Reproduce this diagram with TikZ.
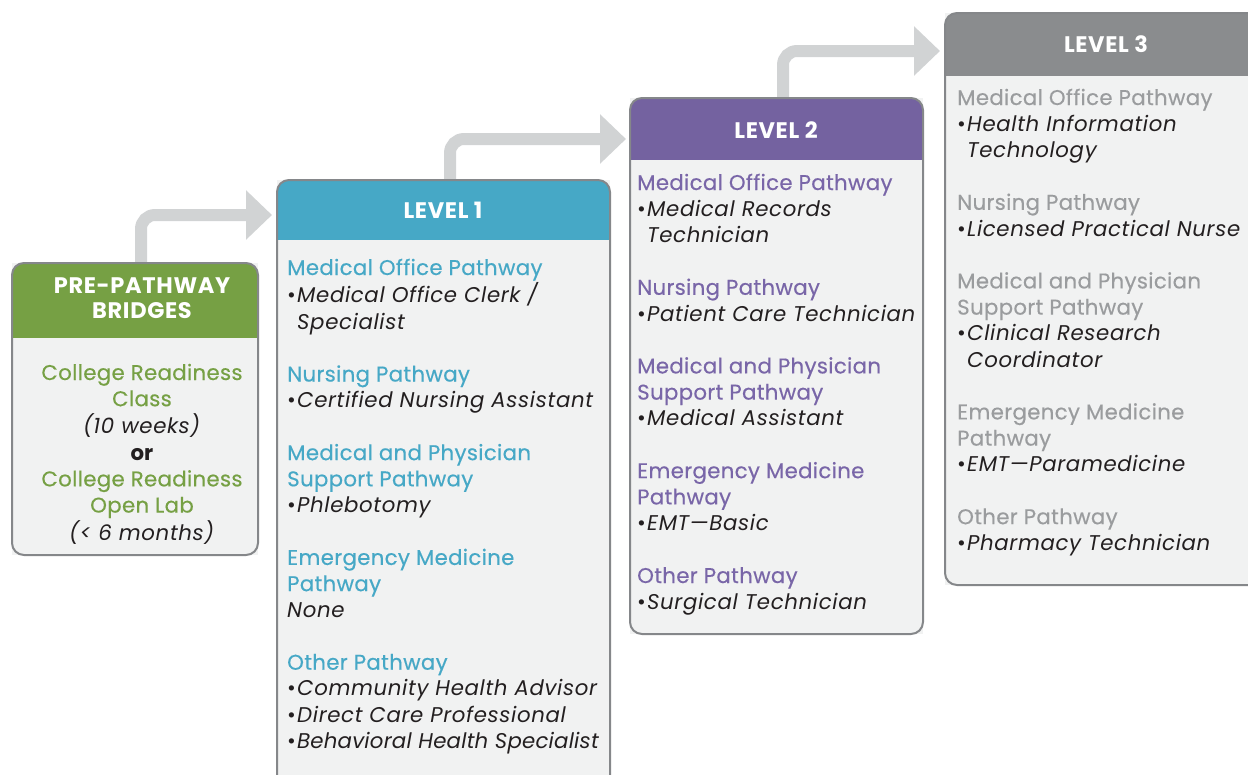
\documentclass[tikz,border=0pt]{standalone}
\usepackage{fontspec}
\setmainfont{Poppins}
\usetikzlibrary{arrows.meta}

\definecolor{cgreen}{HTML}{76A044}
\definecolor{cblue}{HTML}{46A8C6}
\definecolor{cpurple}{HTML}{7462A0}
\definecolor{cgrey}{HTML}{8A8C8E}
\definecolor{tgrey}{HTML}{9A9C9E}
\definecolor{tpurple}{HTML}{7966A8}
\definecolor{panelbg}{HTML}{F1F2F2}
\definecolor{panelline}{HTML}{85878A}
\definecolor{flowgrey}{HTML}{D1D3D4}
\definecolor{ink}{HTML}{231F20}

% heading, bulleted item and continuation line inside a panel
\newcommand{\phead}[1]{{\addfontfeatures{FakeBold=0.35,LetterSpace=1.5}\textcolor{accent}{#1}}}
\newcommand{\pital}[2][3]{\textit{\addfontfeatures{LetterSpace=#1}#2}}
\newcommand{\pitem}[2][3]{\makebox[10pt][l]{•}\pital[#1]{#2}}
\newcommand{\pcont}[1]{\hspace*{10pt}\pital{#1}}

\tikzset{
  panel/.style={fill=panelbg, inner sep=0pt, outer sep=0pt, anchor=north west},
  frame/.style={draw=panelline, line width=2pt, rounded corners=12pt},
  flow/.style={draw=flowgrey, line width=12pt, rounded corners=14pt,
    -{Triangle[width=48pt,length=26pt]}},
  title/.style={text=white, font=\fontsize{22.5}{26}\selectfont\bfseries\addfontfeatures{LetterSpace=3},
    anchor=base, inner sep=0pt},
  body/.style={text=ink, font=\fontsize{21.3}{26.2}\selectfont,
    anchor=base west, inner sep=0pt},
}

% a panel with a coloured header band: name, header height, colour
\newcommand{\panelhead}[3]{%
  \begin{scope}
    \clip[rounded corners=12pt] (#1.north west) rectangle (#1.south east);
    \fill[#3] (#1.north west) rectangle ([yshift=-#2]#1.north east);
  \end{scope}
  \draw[frame] (#1.north west) rectangle (#1.south east);
}

\begin{document}
\begin{tikzpicture}[x=1pt,y=-1pt]
\useasboundingbox (0,0) rectangle (1248,774);

% panels
\node[panel, minimum width=246pt, minimum height=292pt] (pre) at (12,263) {};
\node[panel, minimum width=333pt, minimum height=640pt] (l1) at (277,180) {};
\node[panel, minimum width=293pt, minimum height=536pt] (l2) at (630,98) {};
\node[panel, minimum width=323pt, minimum height=572pt] (l3) at (945,13) {};

% progression arrows
\draw[flow] ([xshift=6pt]pre.north) |- ([xshift=-5pt,yshift=-35pt]l1.north west);
\draw[flow] ([xshift=6.5pt]l1.north) |- ([xshift=-4pt,yshift=-41pt]l2.north west);
\draw[flow] ([xshift=6.5pt]l2.north) |- ([xshift=-5pt,yshift=-38pt]l3.north west);

% redraw panel bodies over arrow stubs
\fill[panelbg, rounded corners=12pt] (pre.north west) rectangle (pre.south east);
\fill[panelbg, rounded corners=12pt] (l1.north west) rectangle (l1.south east);
\fill[panelbg, rounded corners=12pt] (l2.north west) rectangle (l2.south east);
\fill[panelbg, rounded corners=12pt] (l3.north west) rectangle (l3.south east);

\panelhead{pre}{75pt}{cgreen}
\panelhead{l1}{60pt}{cblue}
\panelhead{l2}{62pt}{cpurple}
\panelhead{l3}{63pt}{cgrey}

% header titles
\node[title] (preT) at (142,293) {\begin{tabular}[t]{@{}c@{}}PRE-PATHWAY\\[-0.4pt]BRIDGES\end{tabular}};
\node[title] (l1T) at (443,218) {LEVEL 1};
\node[title] (l2T) at (776,138) {LEVEL 2};
\node[title] (l3T) at (1106,52) {LEVEL 3};

% pre-pathway body
\node[body, anchor=base] (preB) at (142,380) {\colorlet{accent}{cgreen}%
\begin{tabular}[t]{@{}c@{}}
\phead{College Readiness}\\
\phead{Class}\\
\pital{(10 weeks)}\\
\textbf{or}\\
\phead{College Readiness}\\
\phead{Open Lab}\\
\pital{(< 6 months)}
\end{tabular}};

% level 1 body
\node[body] (l1B) at (287,275) {\colorlet{accent}{cblue}%
\begin{tabular}[t]{@{}l@{}}
\phead{Medical Office Pathway}\\
\pitem{Medical Office Clerk /}\\
\pcont{Specialist}\\
\\
\phead{Nursing Pathway}\\
\pitem{Certified Nursing Assistant}\\
\\
\phead{Medical and Physician}\\
\phead{Support Pathway}\\
\pitem{Phlebotomy}\\
\\
\phead{Emergency Medicine}\\
\phead{Pathway}\\
\pital{None}\\
\\
\phead{Other Pathway}\\
\pitem{Community Health Advisor}\\
\pitem{Direct Care Professional}\\
\pitem[1]{Behavioral Health Specialist}
\end{tabular}};

% level 2 body
\node[body] (l2B) at (637,190) {\colorlet{accent}{tpurple}%
\begin{tabular}[t]{@{}l@{}}
\phead{Medical Office Pathway}\\
\pitem{Medical Records}\\
\pcont{Technician}\\
\\
\phead{Nursing Pathway}\\
\pitem{Patient Care Technician}\\
\\
\phead{Medical and Physician}\\
\phead{Support Pathway}\\
\pitem{Medical Assistant}\\
\\
\phead{Emergency Medicine}\\
\phead{Pathway}\\
\pitem{EMT—Basic}\\
\\
\phead{Other Pathway}\\
\pitem{Surgical Technician}
\end{tabular}};

% level 3 body
\node[body] (l3B) at (957,105) {\colorlet{accent}{tgrey}%
\begin{tabular}[t]{@{}l@{}}
\phead{Medical Office Pathway}\\
\pitem{Health Information}\\
\pcont{Technology}\\
\\
\phead{Nursing Pathway}\\
\pitem{Licensed Practical Nurse}\\
\\
\phead{Medical and Physician}\\
\phead{Support Pathway}\\
\pitem{Clinical Research}\\
\pcont{Coordinator}\\
\\
\phead{Emergency Medicine}\\
\phead{Pathway}\\
\pitem{EMT—Paramedicine}\\
\\
\phead{Other Pathway}\\
\pitem{Pharmacy Technician}
\end{tabular}};
\end{tikzpicture}
\end{document}
